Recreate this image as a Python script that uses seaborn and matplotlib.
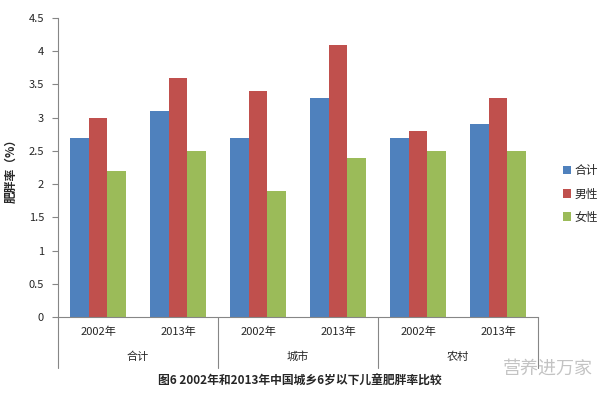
import pandas as pd
import numpy as np
import matplotlib
matplotlib.use('Agg')
import matplotlib.pyplot as plt
import matplotlib.transforms as mtransforms
import seaborn as sns

groups = ['合计', '城市', '农村']
years = ['2002年', '2013年']
series = ['合计', '男性', '女性']
total = [2.7, 3.1, 2.7, 3.3, 2.7, 2.9]
male = [3.0, 3.6, 3.4, 4.1, 2.8, 3.3]
female = [2.2, 2.5, 1.9, 2.4, 2.5, 2.5]
colors = ['#4F81BD', '#C0504D', '#9BBB59']

cats = [g + y for g in groups for y in years]
rows = []
for name, vals in zip(series, [total, male, female]):
    for c, v in zip(cats, vals):
        rows.append({'cat': c, 'series': name, 'value': v})
df = pd.DataFrame(rows)

sns.set_style('white')
plt.rcParams['font.family'] = ['Noto Sans CJK SC', 'DejaVu Sans']

fig = plt.figure(figsize=(6.07, 3.97), dpi=100)
ax = fig.add_axes([58 / 607, 1 - 317 / 397, 480 / 607, 299 / 397])

sns.barplot(data=df, x='cat', y='value', hue='series', order=cats, hue_order=series,
            palette=colors, width=0.69, saturation=1, linewidth=0, ax=ax, legend=True)

ax.set_ylim(0, 4.5)
ax.set_xlim(-0.5, 5.5)
ax.set_yticks(np.arange(0, 4.51, 0.5))
ax.set_yticklabels(['0', '0.5', '1', '1.5', '2', '2.5', '3', '3.5', '4', '4.5'], fontsize=8)
ax.set_xticks(range(6))
ax.set_xticklabels(years * 3, fontsize=8)
ax.tick_params(axis='x', length=0, pad=7)
ax.tick_params(axis='y', length=4, width=0.8, color='#868686', left=True, pad=6)
ax.set_xlabel('')
ax.set_ylabel('肥胖率（%）', fontsize=8.5, fontweight='bold', labelpad=8)

for s in ['top', 'right']:
    ax.spines[s].set_visible(False)
for s in ['left', 'bottom']:
    ax.spines[s].set_color('#868686')
    ax.spines[s].set_linewidth(0.8)

trans = mtransforms.blended_transform_factory(ax.transData, ax.transAxes)
for xb in [-0.5, 1.5, 3.5, 5.5]:
    ax.plot([xb, xb], [0, -51 / 299], color='#868686', lw=0.8, transform=trans, clip_on=False)
for i, g in enumerate(groups):
    ax.text(2 * i + 0.5, -40 / 299, g, transform=trans, ha='center', va='center', fontsize=8)

handles, labels = ax.get_legend_handles_labels()
ax.legend(handles, labels, loc='center left', bbox_to_anchor=(552 / 607, 203 / 397),
          bbox_transform=fig.transFigure, frameon=False, fontsize=8.5,
          handlelength=0.7, handleheight=0.7, handletextpad=0.3, labelspacing=0.85)

fig.text(300 / 607, 1 - 381 / 397, '图6 2002年和2013年中国城乡6岁以下儿童肥胖率比较',
         ha='center', va='center', fontsize=8.5, fontweight='bold')
fig.text(548 / 607, 1 - 369 / 397, '营养进万家', ha='center', va='center',
         fontsize=13, color='#bdbdbd', alpha=0.9)

fig.savefig('out.png', dpi=100)
